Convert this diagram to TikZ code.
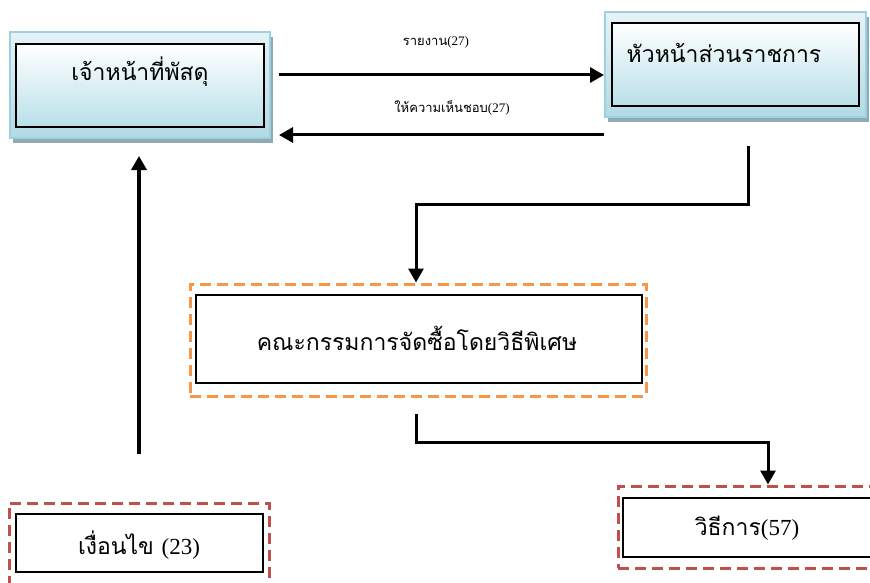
\documentclass[tikz,border=0pt]{standalone}
\usepackage{fontspec}
\setmainfont{Liberation Serif}
\newfontfamily\thaifont[Script=Thai]{Loma}
\usetikzlibrary{arrows.meta, positioning, calc, shadows}

\definecolor{framecol}{HTML}{9DD1DF}
\definecolor{frametop}{HTML}{E6F3F7}
\definecolor{framebot}{HTML}{B2DAE5}
\definecolor{innerbot}{HTML}{B9DFE9}
\definecolor{shadowcol}{HTML}{8FAAB2}
\definecolor{orangedash}{HTML}{F79646}
\definecolor{reddash}{HTML}{C0504D}

\begin{document}
\begin{tikzpicture}[
        x=1pt, y=-1pt,
        frame/.style={rectangle, draw=framecol, line width=2pt, inner sep=0pt, top color=frametop, bottom color=framebot,
            drop shadow={shadow xshift=3pt, shadow yshift=-5pt, fill=shadowcol, opacity=1}},
        innerbox/.style={rectangle, draw=black, line width=2pt, inner sep=0pt, top color=white, bottom color=innerbot},
        plainbox/.style={rectangle, draw=black, line width=2pt, inner sep=0pt, fill=white},
        dashframe/.style={rectangle, draw=#1, line width=3pt, dash pattern=on 11pt off 6pt, inner sep=0pt},
        boxtext/.style={inner sep=0pt, font=\fontsize{23}{26}\selectfont},
        linklabel/.style={inner sep=0pt, font=\fontsize{13}{15}\selectfont},
        arrow/.style={-{Triangle[length=14pt, width=15pt]}, line width=3pt},
        link/.style={line width=3pt}
    ]
        \useasboundingbox (0,0) rectangle (870,583);

        % 1. Top row
        \node (staffframe) [frame, minimum width=260pt, minimum height=106pt] at (140,85) {};
        \node (staff) [innerbox, minimum width=248pt, minimum height=83pt] at (140,85.5) {};
        \node (stafftext) [boxtext] at (140,72) {\thaifont เจ้าหน้าที่พัสดุ};

        \node (headframe) [frame, minimum width=261pt, minimum height=105pt] at (735.5,64.5) {};
        \node (head) [innerbox, minimum width=247pt, minimum height=83pt] at (735.5,64.5) {};
        \node (headtext) [boxtext] at (724,53) {\thaifont หัวหน้าส่วนราชการ};

        % 2. Committee
        \node (committeeframe) [dashframe=orangedash, minimum width=456pt, minimum height=112pt] at (418,340) {};
        \node (committee) [plainbox, minimum width=446pt, minimum height=88pt] at (419,339) {};
        \node (committeetext) [boxtext] at (417,338) {\thaifont คณะกรรมการจัดซื้อโดยวิธีพิเศษ};

        % 3. Bottom row
        \node (condframe) [dashframe=reddash, minimum width=260pt, minimum height=87pt] at (139,546.5) {};
        \node (cond) [plainbox, minimum width=247pt, minimum height=58pt] at (139.5,543) {};
        \node (condtext) [boxtext] at (139,545) {\thaifont เงื่อนไข {\rmfamily(23)}};

        \node (methodframe) [dashframe=reddash, minimum width=260pt, minimum height=82pt] at (748,527) {};
        \node (method) [plainbox, minimum width=250pt, minimum height=59pt] at (748,527.5) {};
        \node (methodtext) [boxtext] at (747,528) {\thaifont วิธีการ{\rmfamily(57)}};

        % Labels
        \node (reportlabel) [linklabel] at (436,42) {{\thaifont รายงาน}(27)};
        \node (approvelabel) [linklabel] at (452,108) {{\thaifont ให้ความเห็นชอบ}(27)};

        % Connections
        \draw [arrow] ($(staffframe.east)+(8,-10)$) -- ($(headframe.west)+(0,10.5)$);
        \draw [arrow] ($(headframe.west)+(0,70.5)$) -- ($(staffframe.east)+(8,50)$);
        \draw [arrow] ($(headframe.south)+(12.5,28)$) -- ++(0,58) -| ([xshift=-2pt]committeeframe.north);
        \draw [arrow] ($(committeeframe.south)+(-2,16)$) -- ++(0,29) -| ([xshift=20pt]methodframe.north);
        \draw [arrow, line width=4pt] ($(condframe.north)+(0,-48)$) -- ($(staffframe.south)+(-1,17)$);
    \end{tikzpicture}
\end{document}
